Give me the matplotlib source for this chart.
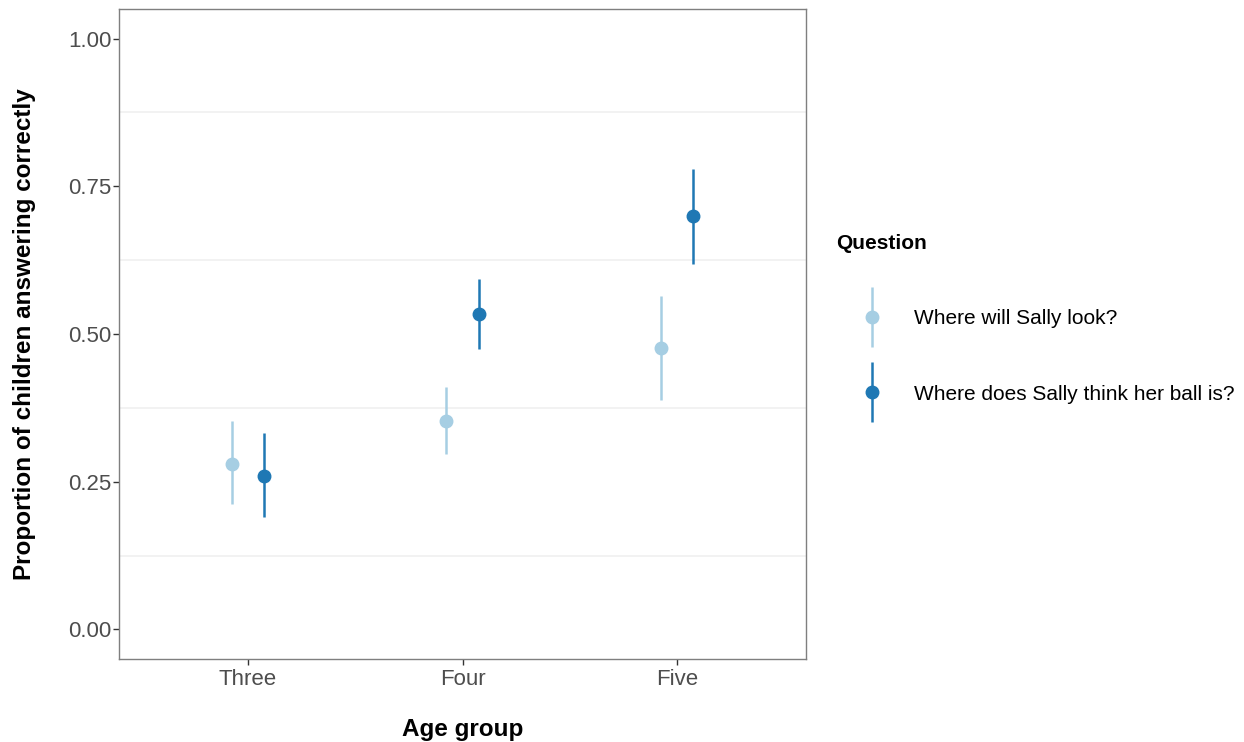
import matplotlib
matplotlib.use("Agg")
import matplotlib.pyplot as plt
from matplotlib.lines import Line2D
import numpy as np

plt.rcParams['font.family'] = ['Liberation Sans', 'DejaVu Sans']

age_groups = ["Three", "Four", "Five"]
questions = ["Where will Sally look?", "Where does Sally think her ball is?"]
# proportion correct, lower and upper bounds per question
prop = [[0.280, 0.353, 0.476], [0.259, 0.534, 0.699]]
lower = [[0.213, 0.297, 0.389], [0.191, 0.475, 0.618]]
upper = [[0.353, 0.410, 0.565], [0.333, 0.593, 0.780]]
colors = ["#A6CEE3", "#1F78B4"]

fig = plt.figure(figsize=(12.44, 7.42), dpi=100)
ax = fig.add_axes([119 / 1244, 1 - 659 / 742, (806 - 119) / 1244, (659 - 9) / 742])

x = np.arange(1, len(age_groups) + 1)
dodge = [-0.075, 0.075]
for i in range(2):
    p = np.array(prop[i])
    yerr = [p - np.array(lower[i]), np.array(upper[i]) - p]
    ax.errorbar(x + dodge[i], p, yerr=yerr, fmt='o', color=colors[i],
                ms=9, elinewidth=1.8, capsize=0, zorder=3)

ax.set_xlim(0.4, 3.6)
ax.set_ylim(-0.05, 1.05)
ax.set_xticks(x)
ax.set_xticklabels(age_groups)
ax.set_yticks([0, 0.25, 0.5, 0.75, 1.0])
ax.set_yticklabels(["0.00", "0.25", "0.50", "0.75", "1.00"])
ax.set_yticks([0.125, 0.375, 0.625, 0.875], minor=True)
ax.grid(which='minor', axis='y', color='#EFEFEF', lw=1.1)
ax.grid(which='major', axis='y', color='white', lw=1.2)
ax.tick_params(axis='both', which='major', colors='#333333', labelcolor='#4D4D4D',
               labelsize=16, length=4, width=1, pad=3)
ax.tick_params(axis='y', which='major', pad=1.5)
ax.tick_params(axis='y', which='minor', length=0)
for s in ax.spines.values():
    s.set_color('#7F7F7F')
    s.set_linewidth(1)
ax.set_axisbelow(True)

ax.set_xlabel("Age group", fontsize=17.5, fontweight='bold')
ax.set_ylabel("Proportion of children answering correctly", fontsize=17.5, fontweight='bold')
ax.xaxis.set_label_coords(0.5, -0.091)
ax.yaxis.set_label_coords(-0.121, 0.5)

# legend: title as separate text, keys as vertical bar + dot
fig.text(836 / 1244, 1 - 244 / 742, "Question", fontsize=15, fontweight='bold',
         ha='left', va='center')

handles = []
for c in colors:
    bar = Line2D([], [], marker='|', ms=43, mew=1.8, color=c, ls='none')
    dot = Line2D([], [], marker='o', ms=9, color=c, ls='none')
    handles.append((bar, dot))

leg = fig.legend(handles=handles, labels=questions,
                 loc='center left', bbox_to_anchor=(819 / 1244, 1 - 356.5 / 742),
                 frameon=False, fontsize=15,
                 handlelength=3.5, handleheight=0.7, labelspacing=2.69, handletextpad=0.25,
                 borderpad=0.3, numpoints=1)

fig.savefig("out.png", dpi=100)
